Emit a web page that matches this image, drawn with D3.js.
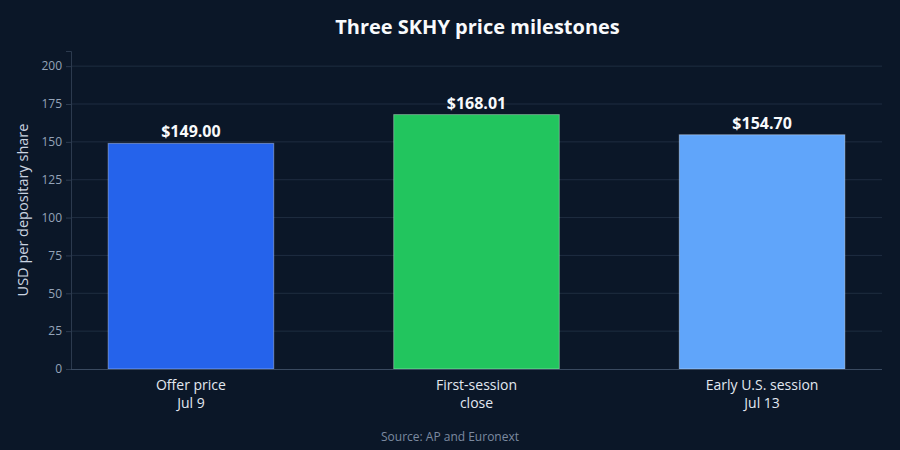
<!DOCTYPE html>
<html><head><meta charset="utf-8">
<script src="https://cdn.jsdelivr.net/npm/d3@7"></script>
<style>
html,body{margin:0;padding:0;background:#0b1728;}
svg{display:block;font-family:"Open Sans","Noto Sans",sans-serif;}
</style></head>
<body>
<svg id="chart" width="900" height="450"></svg>
<script>
const categories = [["Offer price","Jul 9"],["First-session","close"],["Early U.S. session","Jul 13"]];
const values = [149.00, 168.01, 154.70];
const valueLabels = ["$149.00","$168.01","$154.70"];
const yTicks = [0,25,50,75,100,125,150,175,200];
const colors = ["#2563eb","#22c55e","#60a5fa"];

const W=900,H=450;
const m={top:51,right:18,bottom:81,left:71};
const svg=d3.select("#chart");
svg.append("rect").attr("width",W).attr("height",H).attr("fill","#0b1728");

const x=d3.scaleBand().domain(d3.range(categories.length)).range([m.left,W-m.right]).paddingInner(0.42).paddingOuter(0.13);
const y=d3.scaleLinear().domain([0,210]).range([H-m.bottom,m.top]);

// gridlines
svg.append("g").selectAll("line").data(yTicks.filter(d=>d>0)).join("line")
  .attr("x1",m.left).attr("x2",W-m.right)
  .attr("y1",d=>y(d)).attr("y2",d=>y(d))
  .attr("stroke","#1f2d40").attr("stroke-width",1);

// y axis
const ya=svg.append("g").attr("transform",`translate(${m.left},0)`)
  .call(d3.axisLeft(y).tickValues(yTicks).tickSize(5).tickPadding(4));
ya.select(".domain").attr("stroke","#2c3a4e");
ya.selectAll(".tick line").attr("stroke","#2c3a4e");
ya.selectAll("text").attr("fill","#94a3b8").style("font-size","12px").style("font-family","'Open Sans',sans-serif");

// bars
svg.append("g").selectAll("rect").data(values).join("rect")
  .attr("x",(d,i)=>x(i)).attr("width",x.bandwidth())
  .attr("y",d=>y(d)).attr("height",d=>y(0)-y(d))
  .attr("fill",(d,i)=>colors[i])
  .attr("stroke","rgba(255,255,255,0.35)").attr("stroke-width",1);

// x axis line
svg.append("line").attr("x1",m.left).attr("x2",W-m.right)
  .attr("y1",y(0)+0.5).attr("y2",y(0)+0.5).attr("stroke","#3a4a60").attr("stroke-width",1);

// value labels
svg.append("g").selectAll("text").data(values).join("text")
  .attr("x",(d,i)=>x(i)+x.bandwidth()/2).attr("y",d=>y(d)-6)
  .attr("text-anchor","middle").attr("fill","#f8fafc")
  .style("font-size","16px").style("font-weight","700")
  .text((d,i)=>valueLabels[i]);

// category labels
const cl=svg.append("g").selectAll("text").data(categories).join("text")
  .attr("text-anchor","middle").attr("fill","#e2e8f0").style("font-size","14px");
cl.each(function(lines,i){
  const t=d3.select(this);
  lines.forEach((ln,j)=>{
    t.append("tspan").attr("x",x(i)+x.bandwidth()/2).attr("y",y(0)+21+j*18).text(ln);
  });
});

// y-axis title
svg.append("text").attr("transform",`translate(28,${(m.top+y(0))/2}) rotate(-90)`)
  .attr("text-anchor","middle").attr("fill","#cbd5e1").style("font-size","14.5px")
  .text("USD per depositary share");

// title
svg.append("text").attr("x",(m.left+W-m.right)/2+1).attr("y",34)
  .attr("text-anchor","middle").attr("fill","#f8fafc")
  .style("font-size","20px").style("font-weight","700")
  .text("Three SKHY price milestones");

// source
svg.append("text").attr("x",W/2).attr("y",441)
  .attr("text-anchor","middle").attr("fill","#7c8aa0").style("font-size","12px")
  .text("Source: AP and Euronext");
</script>
</body></html>
